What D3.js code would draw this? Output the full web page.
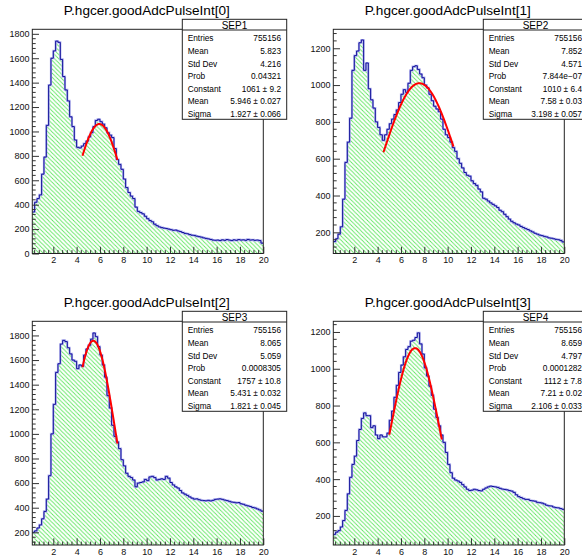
<!DOCTYPE html>
<html><head><meta charset="utf-8">
<script src="https://cdn.jsdelivr.net/npm/d3@7"></script>
<style>body{margin:0;background:#fff}svg{display:block}</style>
</head><body>
<script>
// ---------------- data ----------------
const binLow = 0.2, binWidth = 0.2;
const titles = ["P.hgcer.goodAdcPulseInt[0]","P.hgcer.goodAdcPulseInt[1]","P.hgcer.goodAdcPulseInt[2]","P.hgcer.goodAdcPulseInt[3]"];
const statTitles = ["SEP1","SEP2","SEP3","SEP4"];
const statLabels = ["Entries","Mean","Std Dev","Prob","Constant","Mean","Sigma"];
const stats0 = ["755156","5.823","4.216","0.04321","1061 \u00b1 9.2","5.946 \u00b1 0.027","1.927 \u00b1 0.066"];
const stats1 = ["755156","7.852","4.571","7.844e\u221207","1010 \u00b1 6.4","7.58 \u00b1 0.03","3.198 \u00b1 0.057"];
const stats2 = ["755156","8.065","5.059","0.0008305","1757 \u00b1 10.8","5.431 \u00b1 0.032","1.821 \u00b1 0.045"];
const stats3 = ["755156","8.659","4.797","0.0001282","1112 \u00b1 7.8","7.21 \u00b1 0.02","2.106 \u00b1 0.033"];

const h0 = [340,420,450,480,650,790,1050,1380,1600,1660,
            1740,1730,1590,1450,1340,1250,1120,1040,930,870,
            865,880,900,920,955,990,1040,1090,1100,1080,
            1060,1030,990,970,950,860,770,730,690,610,
            540,500,470,450,380,345,335,325,305,285,
            270,260,240,228,218,212,208,205,200,195,
            190,192,185,180,172,165,162,155,150,148,
            142,138,134,128,124,120,115,110,108,110,
            106,112,108,114,110,106,112,108,114,110,
            112,108,115,110,112,108,110,106,85];
const h1 = [150,165,190,230,380,580,690,820,1080,1160,
            1185,1230,1245,1080,1120,980,920,875,800,770,
            730,700,730,760,790,815,840,865,905,950,
            975,960,1010,1080,1100,1105,1085,1060,1040,1000,
            985,950,915,885,870,855,815,760,730,715,
            690,660,640,600,575,550,525,510,505,480,
            465,455,435,420,385,380,370,360,352,344,
            335,320,312,298,285,272,260,252,245,240,
            232,226,220,215,208,202,195,190,185,182,
            178,175,170,168,165,162,160,156,148];
const h2 = [200,212,235,260,310,370,470,660,1000,1240,
            1500,1570,1730,1760,1750,1700,1650,1600,1590,1530,
            1560,1550,1640,1690,1720,1770,1820,1790,1710,1640,
            1560,1460,1310,1210,1070,980,935,880,790,740,
            680,655,645,625,570,600,605,610,630,620,
            650,655,645,625,630,635,630,655,640,605,
            585,570,560,540,520,510,500,488,478,470,
            472,465,460,458,456,460,455,460,468,470,
            472,468,462,458,452,446,444,440,442,432,
            428,420,415,410,402,398,390,382,372];
const h3 = [100,112,120,140,175,230,320,410,480,525,
            610,670,730,760,745,745,680,690,640,620,
            640,630,630,650,720,770,845,910,980,1020,
            1065,1105,1120,1150,1155,1170,1195,1135,1080,1005,
            960,905,855,780,735,690,640,600,545,480,
            435,405,395,390,382,370,358,345,338,340,
            345,342,338,336,345,352,358,362,360,358,
            355,350,346,344,342,338,335,328,315,305,
            300,294,290,290,284,282,280,274,272,270,
            265,258,255,254,248,245,244,240,236];

const fitConst = [1061, 1010, 1757, 1112];
const fitMean  = [5.946, 7.58, 5.431, 7.21];
const fitSigma = [1.927, 3.198, 1.821, 2.106];
const fitLo = [4.5, 4.5, 4.5, 5.0];
const fitHi = [7.5, 10.5, 7.5, 9.5];

const xDomain = [0.2, 20];
const yMin = [0, 85, 97, 42];
const yMax = [1837, 1303, 1915, 1258];
const xTickValues = [2,4,6,8,10,12,14,16,18,20];

// ---------------- layout ----------------
const W = 582, H = 558;
const frames = [
  {x:32.3,  y:29.3,  w:231, h:224.2},
  {x:333.3, y:29.3,  w:231, h:224.2},
  {x:32.3,  y:321.3, w:231, h:223.7},
  {x:333.3, y:321.3, w:231, h:223.7}
];
const hists = [h0,h1,h2,h3];
const statsAll = [stats0,stats1,stats2,stats3];
const FONT = "'Liberation Sans', Arial, Helvetica, sans-serif";

const svg = d3.select("body").append("svg").attr("width", W).attr("height", H)
  .style("font-family", FONT);

const defs = svg.append("defs");
const pat = defs.append("pattern").attr("id","hatch").attr("patternUnits","userSpaceOnUse")
  .attr("width",4.2).attr("height",4.2);
pat.append("path").attr("d","M-1,-1 L5.2,5.2 M-1,3.2 L1,5.2 M3.2,-1 L5.2,1")
  .attr("stroke","#5ee65e").attr("stroke-width",0.85).attr("fill","none");

frames.forEach((f, k) => {
  const data = hists[k];
  const x = d3.scaleLinear().domain(xDomain).range([f.x, f.x + f.w]);
  const y = d3.scaleLinear().domain([yMin[k], yMax[k]]).range([f.y + f.h, f.y]);
  const g = svg.append("g");

  defs.append("clipPath").attr("id","clip"+k).append("rect")
    .attr("x", f.x).attr("y", f.y).attr("width", f.w).attr("height", f.h);

  // histogram
  const bins = data.map((v, i) => ({x0: binLow + i*binWidth, x1: binLow + (i+1)*binWidth, v}));
  let line = `M${x(bins[0].x0)},${y(bins[0].v)}`;
  bins.forEach((b, i) => {
    if (i > 0) line += `V${y(b.v)}`;
    line += `H${x(b.x1)}`;
  });
  const yb = f.y + f.h;
  const area = `M${x(bins[0].x0)},${yb}V${y(bins[0].v)}` + line.slice(line.indexOf("H")) + `V${yb}Z`;
  const hg = g.append("g").attr("clip-path", `url(#clip${k})`);
  hg.append("path").attr("d", area).attr("fill", "url(#hatch)");
  hg.append("path").attr("d", line).attr("fill","none").attr("stroke","#b4b4f0").attr("stroke-width",2.2);
  hg.append("path").attr("d", line).attr("fill","none").attr("stroke","#10109a").attr("stroke-width",1);

  // fit
  const fx = d3.range(0, 121).map(i => fitLo[k] + (fitHi[k]-fitLo[k])*i/120);
  const gauss = t => fitConst[k]*Math.exp(-0.5*Math.pow((t-fitMean[k])/fitSigma[k],2));
  hg.append("path").datum(fx)
    .attr("d", d3.line().x(t => x(t)).y(t => y(gauss(t))))
    .attr("fill","none").attr("stroke","#ff0000").attr("stroke-width",2);

  // axes
  const yMajor = d3.range(Math.ceil(yMin[k]/200)*200, yMax[k]+1, 200);
  const yMinor = d3.range(Math.ceil(yMin[k]/40)*40, yMax[k]+1, 40).filter(v => v % 200 !== 0);
  const xMinor = d3.range(0.4, 20.01, 0.4).filter(v => Math.abs(v/2 - Math.round(v/2)) > 1e-6 && v > xDomain[0]);

  const ya = g.append("g").attr("transform", `translate(${f.x},0)`)
    .call(d3.axisLeft(y).tickValues(yMajor).tickSize(-6.7).tickPadding(2.8).tickFormat(d3.format("d")));
  ya.select(".domain").remove();
  ya.selectAll("line").attr("stroke","#333");
  ya.selectAll("text").attr("font-size", 9).attr("fill","#111").attr("font-family", FONT);

  const xa = g.append("g").attr("transform", `translate(0,${yb})`)
    .call(d3.axisBottom(x).tickValues(xTickValues).tickSize(-6.7).tickPadding(3.4).tickFormat(d3.format("d")));
  xa.select(".domain").remove();
  xa.selectAll("line").attr("stroke","#333");
  xa.selectAll("text").attr("font-size", 9).attr("fill","#111").attr("font-family", FONT);

  g.selectAll(".ymin").data(yMinor).join("line")
    .attr("x1", f.x).attr("x2", f.x + 3.4).attr("y1", d => y(d)).attr("y2", d => y(d))
    .attr("stroke","#333").attr("stroke-width",1);
  g.selectAll(".xmin").data(xMinor).join("line")
    .attr("x1", d => x(d)).attr("x2", d => x(d)).attr("y1", yb).attr("y2", yb - 3.4)
    .attr("stroke","#333").attr("stroke-width",1);

  // frame
  g.append("rect").attr("x", f.x).attr("y", f.y).attr("width", f.w).attr("height", f.h)
    .attr("fill","none").attr("stroke","#222").attr("stroke-width",1);

  // title
  g.append("text").attr("x", f.x + f.w/2 - 1).attr("y", f.y - 14.3)
    .attr("text-anchor","middle").attr("font-size", 13.6).attr("fill","#000").text(titles[k]);

  // stats box
  const bx = f.x + 150, by = f.y - 10, bw = 104.4, bh = 100;
  const sb = g.append("g");
  sb.append("rect").attr("x", bx).attr("y", by).attr("width", bw).attr("height", bh)
    .attr("fill","#fff").attr("stroke","#222").attr("stroke-width",1);
  sb.append("line").attr("x1", bx).attr("x2", bx + bw).attr("y1", by + 10.7).attr("y2", by + 10.7)
    .attr("stroke","#222").attr("stroke-width",1);
  sb.append("text").attr("x", bx + bw/2).attr("y", by + 9.4).attr("text-anchor","middle")
    .attr("font-size", 10).attr("fill","#000").text(statTitles[k]);
  statLabels.forEach((lab, i) => {
    const ty = by + 22 + 12.63*i;
    sb.append("text").attr("x", bx + 5.4).attr("y", ty).attr("font-size", 8.3).attr("fill","#000").text(lab);
    sb.append("text").attr("x", bx + bw - 5.7).attr("y", ty).attr("text-anchor","end")
      .attr("font-size", 8.3).attr("fill","#000").text(statsAll[k][i]);
  });
});
</script>
</body></html>
